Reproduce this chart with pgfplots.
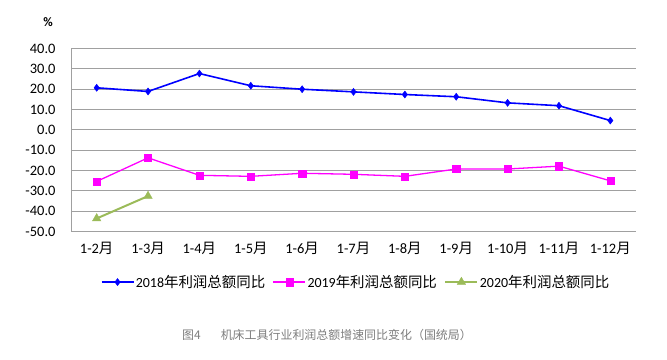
\documentclass[border=0pt]{standalone}
\usepackage{fontspec}
\setmainfont{Carlito}
\newfontfamily\cjk{Noto Sans CJK SC}
\usepackage{pgfplots}
\pgfplotsset{compat=1.18}
\definecolor{gridgray}{RGB}{160,160,160}
\definecolor{olive}{RGB}{155,187,89}
\definecolor{mag}{RGB}{255,0,255}
\definecolor{capgray}{RGB}{125,125,125}
\newcommand{\lcjk}[1]{{\fontsize{14.5}{16}\cjk #1}}
\begin{document}
\begin{tikzpicture}
\path[use as bounding box] (0,0) rectangle (667bp,-360bp);
\begin{axis}[
  at={(71bp,-231.7bp)}, anchor=south west,
  scale only axis, width=565bp, height=183.2bp,
  xmin=-0.5, xmax=10.5, ymin=-50, ymax=40,
  ytick={-50,-40,...,40},
  xtick={0,...,10},
  xticklabels={1-2{\cjk 月},1-3{\cjk 月},1-4{\cjk 月},1-5{\cjk 月},1-6{\cjk 月},1-7{\cjk 月},1-8{\cjk 月},1-9{\cjk 月},1-10{\cjk 月},1-11{\cjk 月},1-12{\cjk 月}},
  axis x line*=bottom, axis y line*=left,
  axis line style={gridgray, line width=1pt, -},
  ymajorgrids, major grid style={gridgray, line width=1pt},
  major tick length=0pt,
  tick style={draw=none},
  /pgf/number format/assume math mode=true,
  /pgf/number format/.cd, fixed, fixed zerofill, precision=1, /pgfplots/.cd,
  yticklabel style={font=\fontsize{14.5}{16}\selectfont, xshift=-12bp},
  xticklabel style={font=\fontsize{14.5}{16}\selectfont, yshift=-7bp},
  legend columns=3,
  legend style={at={(0.504,-0.275)}, anchor=center, draw=none, fill=none,
    font=\fontsize{14}{16}\selectfont, column sep=0bp,
    /tikz/every even column/.append style={column sep=6bp},
    nodes={inner xsep=1.5bp}},
  legend image code/.code={\draw[#1] (0bp,0bp) -- (32bp,0bp); \draw[#1, only marks] plot coordinates {(16bp,0bp)};},
  clip=false,
]
\addplot[blue, line width=1.6pt, mark=diamond*, mark size=3.5pt, mark options={fill=blue, line width=0.5pt}]
coordinates {(0,20.7)(1,18.9)(2,27.7)(3,21.7)(4,20.0)(5,18.7)(6,17.4)(7,16.3)(8,13.3)(9,11.9)(10,4.6)};
\addlegendentry{2018\lcjk{年利润总额同比}}
\addplot[mag, line width=1.3pt, mark=square*, mark size=3.6pt, mark options={fill=mag, line width=0.3pt}]
coordinates {(0,-25.3)(1,-13.7)(2,-22.3)(3,-22.8)(4,-21.3)(5,-21.8)(6,-22.8)(7,-19.2)(8,-19.2)(9,-17.8)(10,-25.0)};
\addlegendentry{2019\lcjk{年利润总额同比}}
\addplot[olive, line width=2pt, mark=triangle*, mark size=5pt, mark options={fill=olive, line width=0.3pt}]
coordinates {(0,-43.5)(1,-32.5)};
\addlegendentry{2020\lcjk{年利润总额同比}}
\end{axis}
\node[font=\fontsize{13}{14}\selectfont\bfseries] at (48bp,-22bp) {\%};
\node[font=\fontsize{12}{13}\cjk, text=capgray, anchor=west, inner sep=0pt] at (182bp,-335bp) {图4\hspace{20bp}机床工具行业利润总额增速同比变化（国统局）};
\end{tikzpicture}
\end{document}
